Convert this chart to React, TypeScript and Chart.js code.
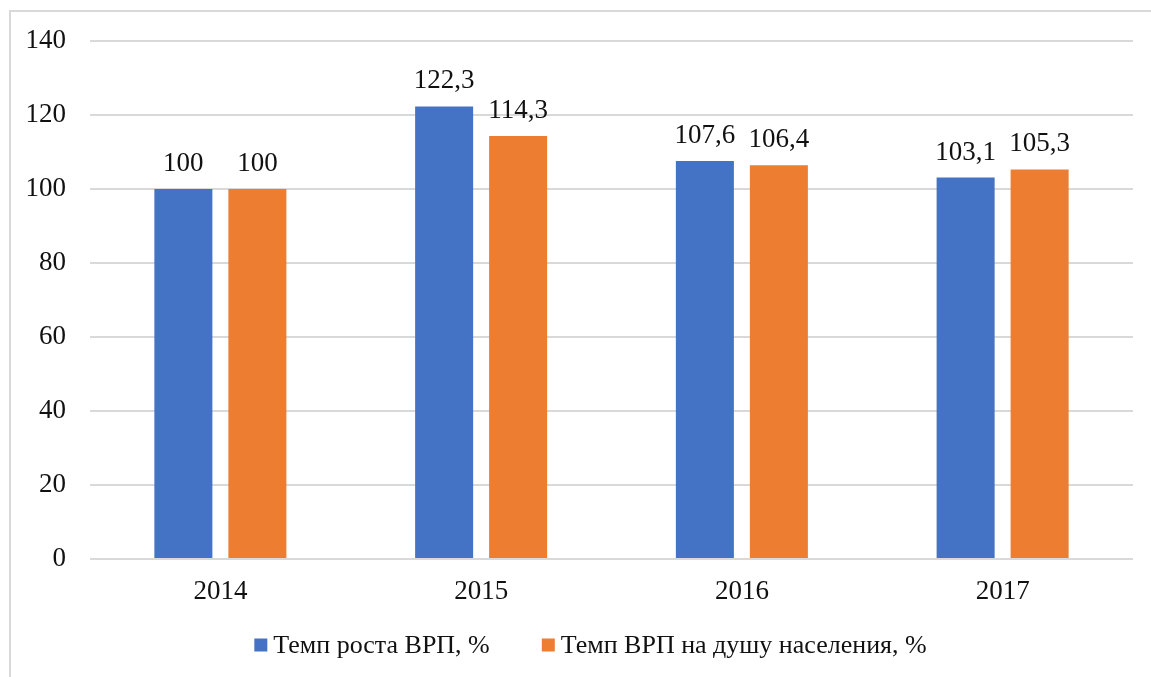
import React, { useEffect, useRef } from "react";
import { Chart, registerables } from "chart.js";

Chart.register(...registerables);

const categories = ["2014", "2015", "2016", "2017"];
const seriesNames = ["Темп роста ВРП, %", "Темп ВРП на душу населения, %"];
const growthVrp = [100, 122.3, 107.6, 103.1];
const growthPerCapita = [100, 114.3, 106.4, 105.3];
const seriesColors = ["#4472C4", "#ED7D31"];
const yMin = 0;
const yMax = 140;
const yStep = 20;

const FONT = "'Liberation Serif', 'Times New Roman', serif";
const TEXT = "#111111";
const GRID = "#d9d9d9";

const fmt = (v: number) => String(v).replace(".", ",");

const framePlugin = {
  id: "frame",
  beforeDraw(chart: any) {
    const ctx = chart.ctx;
    ctx.save();
    ctx.strokeStyle = GRID;
    ctx.lineWidth = 2;
    ctx.beginPath();
    ctx.moveTo(10, chart.height + 5);
    ctx.lineTo(10, 11);
    ctx.lineTo(chart.width + 5, 11);
    ctx.stroke();
    ctx.restore();
  },
};

const valueLabelPlugin = {
  id: "valueLabels",
  afterDatasetsDraw(chart: any) {
    const ctx = chart.ctx;
    ctx.save();
    ctx.font = `27px ${FONT}`;
    ctx.fillStyle = TEXT;
    ctx.textAlign = "center";
    ctx.textBaseline = "alphabetic";
    chart.data.datasets.forEach((ds: any, di: number) => {
      const meta = chart.getDatasetMeta(di);
      meta.data.forEach((bar: any, i: number) => {
        ctx.fillText(fmt(ds.data[i]), bar.x, bar.y - 18);
      });
    });
    ctx.restore();
  },
};

const legendPlugin = {
  id: "customLegend",
  afterDraw(chart: any) {
    const ctx = chart.ctx;
    ctx.save();
    ctx.font = `26px ${FONT}`;
    ctx.textBaseline = "middle";
    ctx.textAlign = "left";
    const box = 13;
    const gap = 6;
    const itemGap = 52;
    const items = chart.data.datasets.map((ds: any) => ({
      label: ds.label,
      color: ds.backgroundColor,
      w: box + gap + ctx.measureText(ds.label).width,
    }));
    const total =
      items.reduce((s: number, it: any) => s + it.w, 0) + itemGap * (items.length - 1);
    const cx = chart.width / 2 + 15;
    const cy = 645;
    let x = cx - total / 2;
    items.forEach((it: any) => {
      ctx.fillStyle = it.color;
      ctx.fillRect(x, cy - box / 2, box, box);
      ctx.fillStyle = TEXT;
      ctx.fillText(it.label, x + box + gap, cy + 1);
      x += it.w + itemGap;
    });
    ctx.restore();
  },
};

export default function App() {
  const ref = useRef<HTMLCanvasElement | null>(null);

  useEffect(() => {
    if (!ref.current) return;
    const chart = new Chart(ref.current, {
      type: "bar",
      data: {
        labels: categories,
        datasets: [
          {
            label: seriesNames[0],
            data: growthVrp,
            backgroundColor: seriesColors[0],
            borderWidth: 0,
            categoryPercentage: 0.5676,
            barPercentage: 0.784,
          },
          {
            label: seriesNames[1],
            data: growthPerCapita,
            backgroundColor: seriesColors[1],
            borderWidth: 0,
            categoryPercentage: 0.5676,
            barPercentage: 0.784,
          },
        ],
      },
      options: {
        responsive: false,
        animation: false,
        layout: { padding: { left: 0, right: 18, top: 41, bottom: 52 } },
        plugins: {
          legend: { display: false },
          tooltip: { enabled: false },
        },
        scales: {
          x: {
            grid: { display: false, drawTicks: false },
            border: { display: false },
            ticks: {
              color: TEXT,
              font: { family: FONT, size: 27 },
              padding: 17,
            },
            afterFit: (s: any) => {
              s.height = 66;
            },
          },
          y: {
            min: yMin,
            max: yMax,
            grid: { color: GRID, lineWidth: 2, drawTicks: false },
            border: { display: false },
            ticks: {
              stepSize: yStep,
              color: TEXT,
              font: { family: FONT, size: 27 },
              padding: 24,
            },
            afterFit: (s: any) => {
              s.width = 90;
            },
          },
        },
      },
      plugins: [framePlugin, valueLabelPlugin, legendPlugin],
    });
    return () => chart.destroy();
  }, []);

  return (
    <div style={{ position: "fixed", left: 0, top: 0, width: 1151, height: 677, background: "#fff" }}>
      <canvas ref={ref} width={1151} height={677} style={{ width: 1151, height: 677, display: "block" }} />
    </div>
  );
}
